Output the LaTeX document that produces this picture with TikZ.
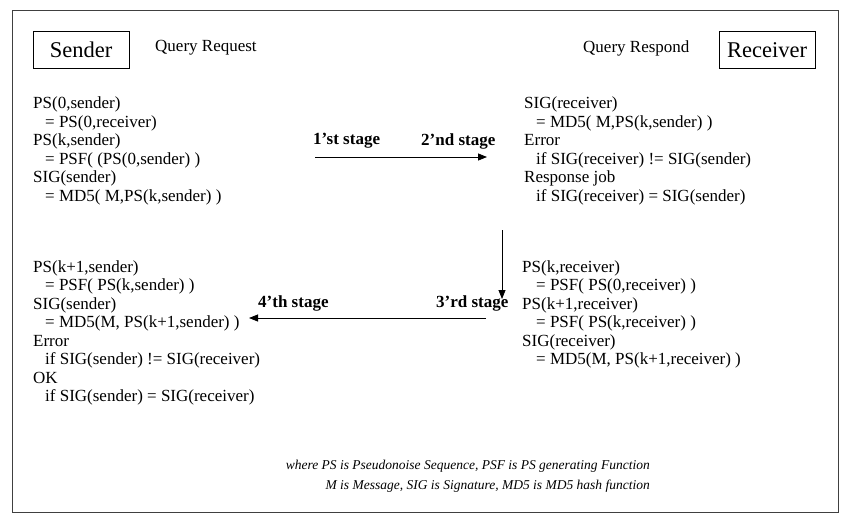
\documentclass[tikz,border=0pt]{standalone}
\usepackage{fontspec}
\setmainfont{Liberation Serif}
\usepackage{tikz}
\usetikzlibrary{arrows.meta,positioning}

\begin{document}
\begin{tikzpicture}[
  x=1pt,y=-1pt,
  party/.style={draw,rectangle,minimum width=96pt,minimum height=37pt,inner sep=0pt,font=\fontsize{22.5}{26}\selectfont,line width=0.8pt},
  query/.style={anchor=west,inner sep=0pt,font=\fontsize{17}{20}\selectfont},
  calc/.style={anchor=north west,inner sep=0pt,align=left,font=\fontsize{17}{18.5}\selectfont},
  stage/.style={anchor=west,inner sep=0pt,font=\fontsize{17}{20}\selectfont\bfseries},
  note/.style={anchor=east,inner sep=0pt,align=right,font=\fontsize{13.5}{20}\selectfont\itshape},
  arr/.style={-{Triangle[length=9pt,width=7pt]},line width=0.8pt}
]
\useasboundingbox (0,0) rectangle (842,530);
\draw[line width=1pt,black!75] (12,10) rectangle (838,512);

\node[party] (sender) at (81,50) {Sender};
\node[party] (receiver) at (767,50) {Receiver};
\node[query] (request) at (155,48) {Query Request};
\node[query] (respond) at (583,48) {Query Respond};

\node[calc] (sendinit) at (33,97) {PS(0,sender)\\
  \hspace*{12pt}= PS(0,receiver)\\
  PS(k,sender)\\
  \hspace*{12pt}= PSF( (PS(0,sender) )\\
  SIG(sender)\\
  \hspace*{12pt}= MD5( M,PS(k,sender) )};
\node[calc] (recvcheck) at (524,97) {SIG(receiver)\\
  \hspace*{12pt}= MD5( M,PS(k,sender) )\\
  Error\\
  \hspace*{12pt}if SIG(receiver) != SIG(sender)\\
  Response job\\
  \hspace*{12pt}if SIG(receiver) = SIG(sender)};
\node[calc] (recvnext) at (522,260) {PS(k,receiver)\\
  \hspace*{14pt}= PSF( PS(0,receiver) )\\
  PS(k+1,receiver)\\
  \hspace*{14pt}= PSF( PS(k,receiver) )\\
  SIG(receiver)\\
  \hspace*{14pt}= MD5(M, PS(k+1,receiver) )};
\node[calc] (sendcheck) at (33,260) {PS(k+1,sender)\\
  \hspace*{12pt}= PSF( PS(k,sender) )\\
  SIG(sender)\\
  \hspace*{12pt}= MD5(M, PS(k+1,sender) )\\
  Error\\
  \hspace*{12pt}if SIG(sender) != SIG(receiver)\\
  OK\\
  \hspace*{12pt}if SIG(sender) = SIG(receiver)};

\node[stage] (first) at (313,141) {1'st stage};
\node[stage] (second) at (421,141) {2'nd stage};
\node[stage] (third) at (436,303) {3'rd stage};
\node[stage] (fourth) at (258,303) {4'th stage};

\coordinate (a1) at (315,157);
\coordinate (a2) at (487,157);
\coordinate (a3) at (502,230);
\coordinate (a4) at (502,299);
\coordinate (a5) at (486,318);
\coordinate (a6) at (249,318);

\draw[arr] (a1) -- (a2);
\draw[arr] (a3) -- (a4);
\draw[arr] (a5) -- (a6);

\node[note] (legend) at (650,476) {where PS is Pseudonoise Sequence, PSF is PS generating Function\\
  M is Message, SIG is Signature, MD5 is MD5 hash function};

\end{tikzpicture}
\end{document}
